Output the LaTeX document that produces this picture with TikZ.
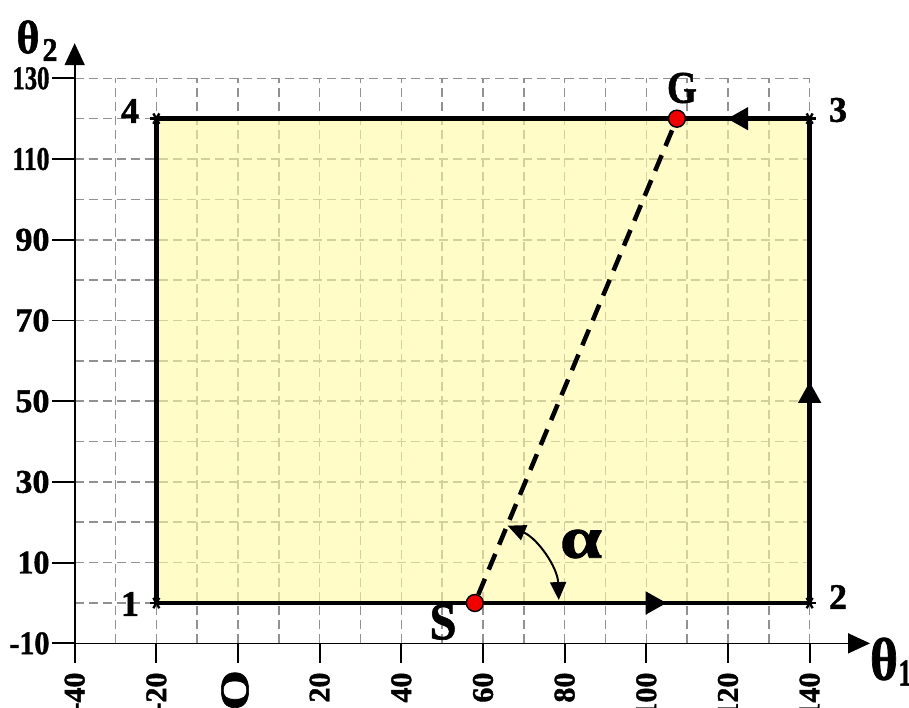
\documentclass[tikz,border=0pt]{standalone}
\usepackage{fontspec}
\setmainfont{Liberation Serif}[BoldFeatures={FakeBold=1.3}]
\usetikzlibrary{arrows.meta}
\definecolor{yfill}{RGB}{255,250,163}
\definecolor{gridgray}{RGB}{145,145,145}
\definecolor{dotred}{RGB}{240,0,0}
\begin{document}
\begin{tikzpicture}[x=4.083pt,y=4.036pt,
  gridline/.style={draw=gridgray, line width=1.6pt, dash pattern=on 9pt off 5pt},
  edge/.style={line width=4.5pt},
  midtip/.style={-{Triangle[length=21pt,width=22pt]}},
  axtip/.style={-{Triangle[length=22pt,width=20pt]}},
  lab/.style={inner sep=0pt, font=\bfseries},
  dot/.style={circle, fill=dotred, draw=black, line width=1.4pt, minimum size=17pt, inner sep=0pt},
]
\useasboundingbox (-238pt,-104pt) rectangle (671pt,603pt);
% grid
\foreach \v in {-10,0,...,130} \draw[gridline] (-40,\v) -- (140,\v);
\foreach \u in {-40,-30,...,140} \draw[gridline] (\u,-10) -- (\u,130);
% axes
\coordinate (O) at (-40,-10);
\coordinate (xend) at (154.8,-10);
\coordinate (yend) at (-40,138.7);
\draw[line width=1.6pt, axtip] (O) -- (xend);
\draw[line width=1.8pt, axtip] (O) -- (yend);
% ticks
\foreach \v in {-10,10,...,130} \draw[line width=1.8pt] (-40,\v) -- ++(-23pt,0);
\foreach \u in {-40,-20,...,140} \draw[line width=1.8pt] (\u,-10) -- ++(0,-20pt);
% y labels
\foreach \v/\w in {130/37pt,110/37pt,90/34pt,70/34pt,50/34pt,30/34pt,10/32pt,-10/40pt}
  \node[lab, anchor=east, xshift=-25pt] at (-40,\v) {\resizebox{\w}{22pt}{\v}};
% x labels
\foreach \u in {-40,-20,20,40,60,80,100,120,140}
  \node[lab, anchor=east, rotate=90] at ([yshift=-29pt]\u,-10) {\fontsize{30}{30}\selectfont \u};
\node[lab, anchor=east, rotate=90] (zerolab) at (-3pt,-67pt) {\resizebox{40pt}{27pt}{O}};
% axis names
\node[lab] (th2) at (-210pt,566pt) {\resizebox{23pt}{33pt}{θ}};
\node[lab] (th2s) at (-188pt,553pt) {\resizebox{15pt}{22pt}{2}};
\node[lab] (th1) at (646pt,-56pt) {\resizebox{28pt}{42pt}{θ}};
\node[lab] (th1s) at (667pt,-70pt) {\resizebox{13pt}{25pt}{1}};
% region
\coordinate (c1) at (-20,0);
\coordinate (c2) at (140,0);
\coordinate (c3) at (140,120);
\coordinate (c4) at (-20,120);
\fill[yfill, opacity=0.6] (c1) rectangle (c3);
\draw[edge, line join=miter] (c1) -- (c2) -- (c3) -- (c4) -- cycle;
\draw[edge, midtip] (95,0) -- (105,0);
\draw[edge, midtip] (140,45) -- (140,54.8);
\draw[edge, midtip] (129,120) -- (119.8,120);
\foreach \c in {c1,c2,c3,c4}
  \foreach \a in {0,60,120}
    \draw[line width=2.4pt] ([shift={(\a:6pt)}]\c) -- ([shift={(\a+180:6pt)}]\c);
% corner labels
\node[lab] (n1) at (-108pt,-1pt) {\fontsize{36}{36}\selectfont 1};
\node[lab] (n2) at (600pt,6pt) {\fontsize{36}{36}\selectfont 2};
\node[lab] (n3) at (600pt,493pt) {\fontsize{36}{36}\selectfont 3};
\node[lab] (n4) at (-108pt,492pt) {\fontsize{36}{36}\selectfont 4};
% start / goal
\node[dot] (S) at (58,0) {};
\node[dot] (G) at (107.5,120) {};
\draw[line width=4.5pt, dash pattern=on 17pt off 10pt] (S) -- (G);
\draw[line width=2pt, {Triangle[length=18pt,width=16pt]}-{Triangle[length=18pt,width=16pt]}]
  ([shift={(67:84pt)}]S.center) arc[start angle=67, end angle=2, radius=84pt];
\node[lab] (Slab) at (205pt,-19pt) {\resizebox{27pt}{35pt}{S}};
\node[lab] (Glab) at (444pt,515pt) {\resizebox{30pt}{30pt}{G}};
\node[lab] (alab) at (343pt,59pt) {\resizebox{42pt}{28pt}{α}};
\end{tikzpicture}
\end{document}
